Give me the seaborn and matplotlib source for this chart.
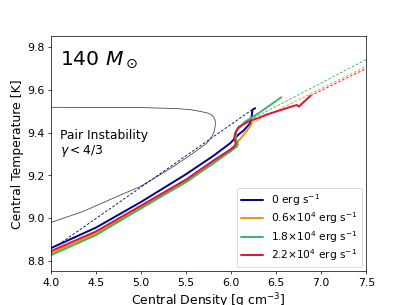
import numpy as np
import matplotlib
matplotlib.use("Agg")
import matplotlib.pyplot as plt
import seaborn as sns

# Evolution tracks in the (log rho_c, log T_c) plane
rho_0 = [4.0, 4.5, 5.0, 5.5, 5.8, 5.99, 6.08, 6.14, 6.21, 6.23, 6.235, 6.267]
temp_0 = [8.859, 8.955, 9.075, 9.205, 9.29, 9.35, 9.39, 9.41, 9.443, 9.48, 9.506, 9.514]

rho_06 = [4.0, 4.5, 5.0, 5.5, 5.8, 5.99, 6.044, 6.09, 6.137, 6.211, 6.23]
temp_06 = [8.835, 8.928, 9.052, 9.175, 9.262, 9.318, 9.342, 9.365, 9.389, 9.428, 9.443]

rho_18 = [4.0, 4.5, 5.0, 5.5, 5.8, 5.99, 6.063, 6.075, 6.055, 6.05, 6.065, 6.1, 6.156, 6.304, 6.489, 6.556]
temp_18 = [8.826, 8.92, 9.045, 9.168, 9.255, 9.311, 9.334, 9.345, 9.37, 9.39, 9.41, 9.425, 9.451, 9.49, 9.545, 9.565]

rho_22 = [4.0, 4.5, 5.0, 5.5, 5.8, 5.99, 6.045, 6.05, 6.035, 6.044, 6.08, 6.19, 6.3, 6.4, 6.55, 6.66, 6.73, 6.75, 6.88]
temp_22 = [8.845, 8.937, 9.058, 9.18, 9.268, 9.32, 9.338, 9.35, 9.375, 9.397, 9.425, 9.451, 9.468, 9.485, 9.505, 9.52, 9.529, 9.521, 9.572]

# dashed extrapolations
dash_rho_0 = [4.12, 6.23]
dash_temp_0 = [8.886, 9.506]
dash_rho_06 = [6.22, 7.5]
dash_temp_06 = [9.443, 9.71]
dash_rho_18 = [6.21, 7.5]
dash_temp_18 = [9.459, 9.742]
dash_rho_22 = [6.88, 7.5]
dash_temp_22 = [9.572, 9.70]

# gamma < 4/3 boundary
pi_rho = [4.0, 4.36, 4.73, 4.99, 5.21, 5.36, 5.55, 5.73, 5.786, 5.81, 5.822, 5.826, 5.822,
          5.81, 5.786, 5.75, 5.7, 5.656, 5.55, 5.4, 5.0, 4.0]
pi_temp = [8.979, 9.031, 9.10, 9.147, 9.202, 9.241, 9.295, 9.35, 9.381, 9.402, 9.428, 9.443, 9.458,
           9.47, 9.482, 9.49, 9.495, 9.499, 9.507, 9.512, 9.517, 9.518]

labels = [r"0 erg s$^{-1}$", r"0.6$\times$10$^4$ erg s$^{-1}$",
          r"1.8$\times$10$^4$ erg s$^{-1}$", r"2.2$\times$10$^4$ erg s$^{-1}$"]
colors = ["darkblue", "darkorange", "mediumseagreen", "crimson"]

sns.set_style("ticks")
plt.rcParams['font.family'] = ['DejaVu Sans']
plt.rcParams['text.color'] = 'black'
plt.rcParams['axes.labelcolor'] = 'black'

fig, ax = plt.subplots(figsize=(6.4, 4.8), dpi=407 / 6.4)

sns.lineplot(x=pi_rho, y=pi_temp, sort=False, estimator=None, color="#444444", lw=0.9, ax=ax)

tracks = [(rho_0, temp_0), (rho_06, temp_06), (rho_18, temp_18), (rho_22, temp_22)]
dashes = [(dash_rho_0, dash_temp_0), (dash_rho_06, dash_temp_06),
          (dash_rho_18, dash_temp_18), (dash_rho_22, dash_temp_22)]
for (rx, ty), (dx, dy), c, lab in zip(tracks, dashes, colors, labels):
    sns.lineplot(x=dx, y=dy, sort=False, estimator=None, color=c, lw=1.0, ax=ax,
                 linestyle=(0, (3, 2)))
    sns.lineplot(x=rx, y=ty, sort=False, estimator=None, color=c, lw=2.2, ax=ax, label=lab)

ax.set_xlim(4.0, 7.5)
ax.set_ylim(8.75, 9.85)
ax.set_xticks(np.arange(4.0, 7.51, 0.5))
ax.set_yticks(np.arange(8.8, 9.81, 0.2))
ax.tick_params(labelsize=12.5, colors="black")
for s in ax.spines.values():
    s.set_color("black")
ax.set_xlabel(r"Central Density [g cm$^{-3}$]", fontsize=14)
ax.set_ylabel("Central Temperature [K]", fontsize=14)

ax.text(4.1, 9.72, r"140 $M_\odot$", fontsize=23)
ax.text(4.1, 9.30, "Pair Instability\n" + r"$\gamma < 4/3$", fontsize=14, linespacing=1.1)

ax.legend(loc="lower right", fontsize=12, labelspacing=0.25, borderaxespad=0.4)

fig.savefig("out.png", dpi=407 / 6.4)
